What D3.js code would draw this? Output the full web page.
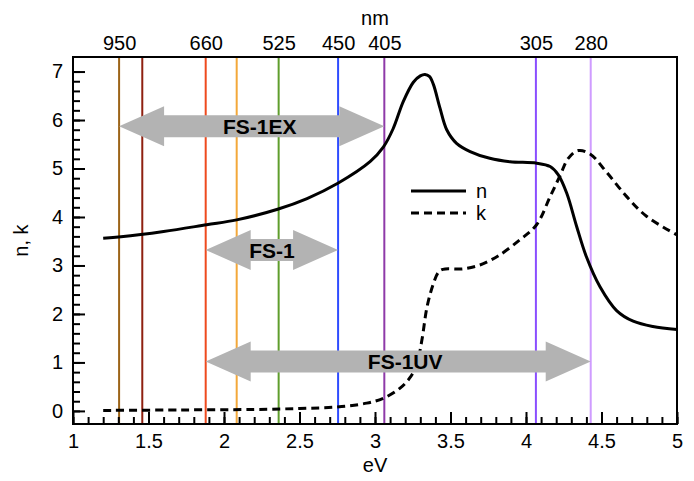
<!DOCTYPE html>
<html>
<head>
<meta charset="utf-8">
<script src="https://cdn.jsdelivr.net/npm/d3@7"></script>
<style>
  body { margin: 0; background: #fff; }
  text { font-family: "Liberation Sans", Arial, sans-serif; }
</style>
</head>
<body>
<svg id="chart"></svg>
<script>
// n curve (photon energy in eV, value)
var nEnergy = [1.2, 1.318, 1.6, 1.885, 2.084, 2.355, 2.55, 2.757, 2.967, 3.055, 3.12, 3.187, 3.254, 3.30, 3.331, 3.36, 3.386, 3.43, 3.475, 3.54, 3.63, 3.76, 3.894, 4.071, 4.16, 4.214, 4.27, 4.336, 4.40, 4.49, 4.60, 4.71, 4.84, 5.0];
var nValues = [3.56, 3.59, 3.70, 3.84, 3.94, 4.16, 4.38, 4.70, 5.14, 5.44, 5.82, 6.38, 6.78, 6.91, 6.94, 6.9, 6.74, 6.25, 5.80, 5.52, 5.35, 5.21, 5.14, 5.11, 5.04, 4.87, 4.49, 3.80, 3.18, 2.56, 2.07, 1.85, 1.74, 1.68];

// k curve
var kEnergy = [1.2, 1.709, 2.2, 2.5, 2.746, 2.945, 3.055, 3.166, 3.23, 3.276, 3.31, 3.345, 3.386, 3.42, 3.45, 3.585, 3.695, 3.76, 3.828, 3.96, 4.07, 4.16, 4.225, 4.28, 4.346, 4.424, 4.535, 4.667, 4.80, 5.0];
var kValues = [0.01, 0.02, 0.03, 0.05, 0.08, 0.16, 0.26, 0.47, 0.68, 0.95, 1.45, 2.15, 2.62, 2.86, 2.92, 2.93, 3.01, 3.10, 3.22, 3.53, 3.84, 4.42, 4.85, 5.21, 5.37, 5.30, 4.92, 4.42, 4.01, 3.63];

// source lines (nm) and their colours
var lineWavelengths = [950, 850, 660, 595, 525, 450, 405, 305, 280];
var lineColors = ["#9c6418", "#8f2010", "#ee4a1e", "#f3a83a", "#5f9e2c", "#2f4cff", "#8e3aa8", "#8a4dff", "#cf9cff"];
var topLabels = [950, 660, 525, 450, 405, 305, 280];

// instrument ranges
var arrowNames = ["FS-1EX", "FS-1", "FS-1UV"];
var arrowFrom = [950, 660, 660];
var arrowTo = [405, 450, 280];
var arrowLevel = [5.87, 3.32, 1.02];

var xTicks = [1, 1.5, 2, 2.5, 3, 3.5, 4, 4.5, 5];
var yTicks = [0, 1, 2, 3, 4, 5, 6, 7];

var margin = { top: 57, right: 17, bottom: 57, left: 73 },
  width = 694 - margin.left - margin.right,
  height = 481 - margin.top - margin.bottom;

var toEV = function (nm) { return 1240 / nm; };

var svg = d3.select("#chart")
  .attr("width", width + margin.left + margin.right)
  .attr("height", height + margin.top + margin.bottom);

var chart = svg.append("g")
  .attr("transform", "translate(" + margin.left + "," + margin.top + ")");

var x = d3.scaleLinear().domain([1, 5]).range([0, width]);
var y = d3.scaleLinear().domain([-0.27, 7.3]).range([height, 0]);

// coloured source lines
chart.selectAll(".srcLine")
  .data(lineWavelengths)
  .enter()
  .append("line")
  .attr("class", "srcLine")
  .attr("x1", function (d) { return x(toEV(d)); })
  .attr("x2", function (d) { return x(toEV(d)); })
  .attr("y1", 0)
  .attr("y2", height)
  .attr("stroke", function (d, i) { return lineColors[i]; })
  .attr("stroke-width", 2);

// curves
var nData = nEnergy.map(function (e, i) { return { e: e, v: nValues[i] }; });
var kData = kEnergy.map(function (e, i) { return { e: e, v: kValues[i] }; });

var line = d3.line()
  .curve(d3.curveCatmullRom.alpha(0.5))
  .x(function (d) { return x(d.e); })
  .y(function (d) { return y(d.v); });

chart.append("path")
  .datum(nData)
  .attr("d", line)
  .attr("fill", "none")
  .attr("stroke", "#000")
  .attr("stroke-width", 3);

chart.append("path")
  .datum(kData)
  .attr("d", line)
  .attr("fill", "none")
  .attr("stroke", "#000")
  .attr("stroke-width", 3)
  .attr("stroke-dasharray", "8,5");

// double arrows
var headLen = 45, headHalf = 20, shaftHalf = 11;
var labelShift = [8, 0, 7];
arrowNames.forEach(function (name, i) {
  var x1 = x(toEV(arrowFrom[i])), x2 = x(toEV(arrowTo[i])), cy = y(arrowLevel[i]);
  var p = d3.path();
  p.moveTo(x1, cy);
  p.lineTo(x1 + headLen, cy - headHalf);
  p.lineTo(x1 + headLen, cy - shaftHalf);
  p.lineTo(x2 - headLen, cy - shaftHalf);
  p.lineTo(x2 - headLen, cy - headHalf);
  p.lineTo(x2, cy);
  p.lineTo(x2 - headLen, cy + headHalf);
  p.lineTo(x2 - headLen, cy + shaftHalf);
  p.lineTo(x1 + headLen, cy + shaftHalf);
  p.lineTo(x1 + headLen, cy + headHalf);
  p.closePath();
  chart.append("path")
    .attr("d", p.toString())
    .attr("fill", "#b3b3b3");
  chart.append("text")
    .attr("x", (x1 + x2) / 2 + labelShift[i])
    .attr("y", cy)
    .attr("dy", "0.36em")
    .attr("text-anchor", "middle")
    .attr("font-size", 21)
    .attr("font-weight", "bold")
    .text(name);
});

// legend
var legend = chart.append("g").attr("transform", "translate(" + (411 - margin.left) + "," + (191 - margin.top) + ")");
legend.append("line").attr("x1", 0).attr("x2", 55).attr("y1", 0).attr("y2", 0)
  .attr("stroke", "#000").attr("stroke-width", 3);
legend.append("line").attr("x1", 0).attr("x2", 55).attr("y1", 22).attr("y2", 22)
  .attr("stroke", "#000").attr("stroke-width", 3).attr("stroke-dasharray", "8,5");
legend.append("text").attr("x", 65).attr("y", 0).attr("dy", "0.35em").attr("font-size", 20).text("n");
legend.append("text").attr("x", 65).attr("y", 22).attr("dy", "0.35em").attr("font-size", 20).text("k");

// frame
chart.append("rect")
  .attr("width", width)
  .attr("height", height)
  .attr("fill", "none")
  .attr("stroke", "#000")
  .attr("stroke-width", 2);

// bottom axis, ticks inward
var xMinor = d3.range(10, 51).map(function (d) { return d / 10; });
chart.append("g")
  .attr("transform", "translate(0," + height + ")")
  .call(d3.axisBottom(x).tickValues(xMinor).tickSizeInner(-7).tickSizeOuter(0).tickFormat(""))
  .call(function (g) { g.select(".domain").remove(); });
chart.append("g")
  .attr("class", "myXaxis")
  .attr("transform", "translate(0," + height + ")")
  .call(d3.axisBottom(x).tickValues(xTicks).tickSizeInner(-12).tickSizeOuter(0).tickPadding(10).tickFormat(d3.format("")))
  .call(function (g) { g.select(".domain").remove(); });

// left axis, ticks inward
var yMinor = d3.range(0, 36).map(function (d) { return d / 5; });
chart.append("g")
  .call(d3.axisLeft(y).tickValues(yMinor).tickSizeInner(-7).tickSizeOuter(0).tickFormat(""))
  .call(function (g) { g.select(".domain").remove(); });
chart.append("g")
  .attr("class", "myYaxis")
  .call(d3.axisLeft(y).tickValues(yTicks).tickSizeInner(-12).tickSizeOuter(0).tickPadding(10))
  .call(function (g) { g.select(".domain").remove(); });

// top wavelength labels
chart.append("g")
  .call(d3.axisTop(x).tickValues(topLabels.map(toEV)).tickSizeInner(0).tickSizeOuter(0).tickPadding(7)
    .tickFormat(function (d) { return Math.round(1240 / d); }))
  .call(function (g) { g.select(".domain").remove(); });

chart.selectAll(".tick line").attr("stroke-width", 2);
chart.selectAll(".tick text").attr("font-size", 20).attr("font-family", "'Liberation Sans', Arial, sans-serif").attr("fill", "#000");

// axis titles
svg.append("text")
  .attr("x", margin.left + width / 2)
  .attr("y", 472)
  .attr("text-anchor", "middle")
  .attr("font-size", 20)
  .text("eV");
svg.append("text")
  .attr("x", margin.left + width / 2)
  .attr("y", 25)
  .attr("text-anchor", "middle")
  .attr("font-size", 20)
  .text("nm");
svg.append("text")
  .attr("transform", "translate(28," + (margin.top + height / 2) + ") rotate(-90)")
  .attr("text-anchor", "middle")
  .attr("font-size", 20)
  .text("n, k");
</script>
</body>
</html>
